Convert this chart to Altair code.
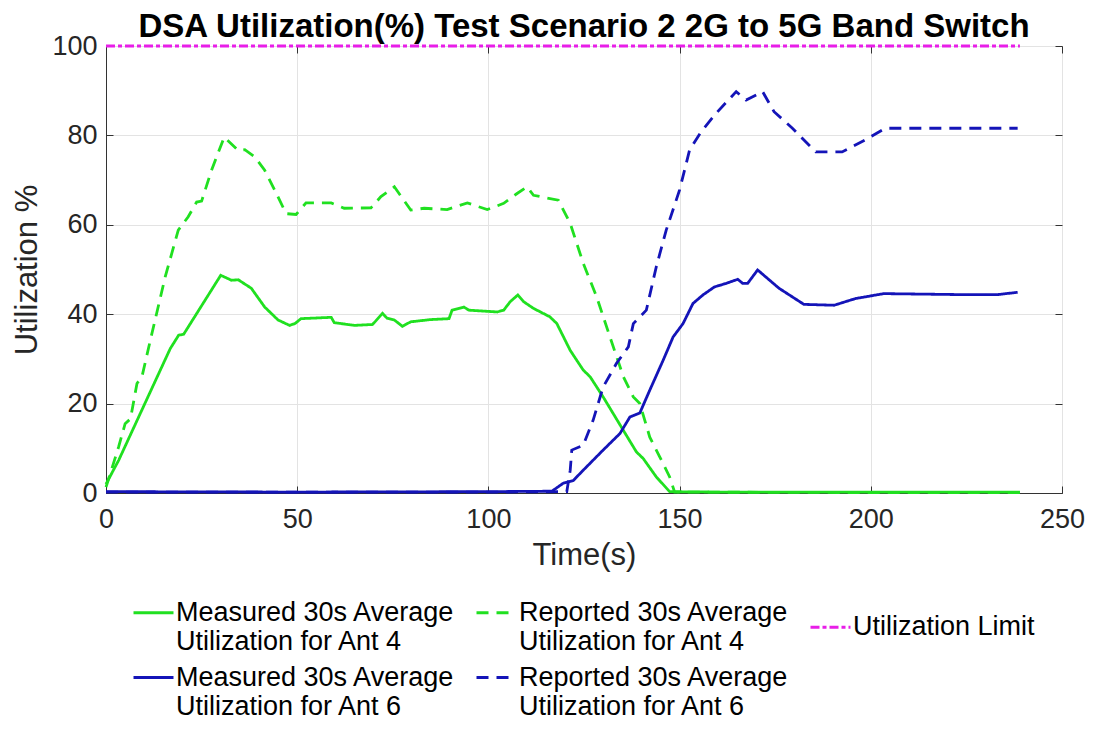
import altair as alt
import pandas as pd

# ---------------- data ----------------
m4_t = [0, 3.3, 16.8, 19, 20.3, 30, 32.8, 34.6, 38, 41.5, 45, 48, 49.4, 51, 58.9, 59.7, 65,
        69.7, 72.3, 73.5, 75.4, 77.5, 79.7, 84.9, 89.7, 90.5, 93.6, 94.9, 102.3, 104, 105.7,
        107.7, 109.2, 111.8, 116.1, 117.9, 121.4, 124.8, 126.6, 130, 135.3, 138.7, 140.5,
        143.9, 147.4, 160, 200, 239]
m4_u = [2.0, 7.3, 32.3, 35.3, 35.5, 48.7, 47.6, 47.7, 45.8, 41.6, 38.7, 37.5, 37.9, 39.0, 39.3,
        38.1, 37.5, 37.7, 40.2, 39.1, 38.7, 37.3, 38.3, 38.8, 39.0, 40.9, 41.6, 40.9, 40.5, 40.9,
        42.8, 44.3, 42.8, 41.3, 39.4, 37.9, 31.9, 27.5, 26.0, 21.5, 14.0, 9.2, 7.7, 3.6, 0.3,
        0.2, 0.2, 0.2]

r4_t = [0, 3.3, 5, 6.4, 8.1, 9.4, 11.6, 15.5, 18.9, 21.5, 23.7, 25, 27.6, 30.9, 34.6, 36.3,
        38.9, 41.5, 44.1, 47.1, 49.7, 52.3, 58.9, 62.3, 69.3, 71.9, 75.4, 79.7, 83.2, 89.2,
        94.5, 99.7, 104, 107.5, 110.1, 111.8, 118.3, 121.4, 124.8, 128.3, 131.8, 135.3,
        137.9, 139.6, 142.2, 144.8, 147.4, 148.7, 200, 239]
r4_u = [1.3, 10.3, 15.5, 16.6, 24.5, 26.0, 34.2, 48.4, 58.8, 61.8, 65.1, 65.3, 72.2, 79.6,
        76.6, 76.8, 75.2, 72.2, 67.8, 62.5, 62.3, 64.9, 64.9, 63.7, 63.8, 66.3, 68.5, 63.3,
        63.7, 63.4, 64.9, 63.4, 64.8, 67.0, 68.5, 66.6, 65.5, 60.3, 51.4, 43.9, 34.9, 26.0,
        21.5, 20.0, 12.5, 8.1, 3.6, 0.2, 0.1, 0.1]

m6_t = [0, 50, 100, 116.6, 119.6, 122.2, 124.8, 130, 134.4, 137, 139.6, 142.2, 145.7, 148.3,
        150.9, 153.5, 156.1, 159.1, 162.2, 165.2, 166.5, 167.8, 170.4, 176, 182.5, 190.4,
        196, 203.4, 222, 233.3, 238.4]
m6_u = [0.3, 0.2, 0.3, 0.4, 2.2, 2.8, 5.1, 9.6, 13.3, 17.0, 17.9, 23.0, 29.7, 34.9, 37.9,
        42.4, 44.3, 46.1, 46.9, 47.8, 46.9, 46.9, 49.9, 45.8, 42.2, 42.0, 43.5, 44.6, 44.4,
        44.4, 44.9]

r6_t = [0, 100, 120.5, 121.4, 121.8, 124.8, 127.4, 130, 133.5, 136.6, 137.9, 141.3, 143.9,
        146.5, 150, 152.6, 155.6, 159.5, 164.8, 167.4, 171.7, 174.7, 179.5, 185.6, 192.5,
        198.6, 203.8, 238.4]
r6_u = [0.2, 0.2, 0.3, 5.1, 9.6, 10.7, 16.3, 23.7, 29.0, 32.7, 37.9, 40.9, 50.6, 58.8, 67.8,
        76.7, 80.8, 84.9, 89.8, 87.9, 89.8, 85.3, 81.6, 76.3, 76.3, 79.0, 81.6, 81.6]

lim_t = [0, 239]
lim_u = [100, 100]

series_names = [
    "Measured 30s Average|Utilization for Ant 4",
    "Reported 30s Average|Utilization for Ant 4",
    "Utilization Limit",
    "Measured 30s Average|Utilization for Ant 6",
    "Reported 30s Average|Utilization for Ant 6",
]
series_colors = ["#20e020", "#20e020", "#e81ee8", "#1414b8", "#1414b8"]
series_dashes = [[1, 0], [12, 8], [9, 3, 4, 3], [1, 0], [12, 8]]

x_ticks = [0, 50, 100, 150, 200, 250]
y_ticks = [0, 20, 40, 60, 80, 100]

rows = []
for name, ts, us in zip(series_names,
                        [m4_t, r4_t, lim_t, m6_t, r6_t],
                        [m4_u, r4_u, lim_u, m6_u, r6_u]):
    for t, u in zip(ts, us):
        rows.append({"series": name, "t": t, "u": u})
df = pd.DataFrame(rows)

FONT = "Liberation Sans"
W, H = 956, 447

x_scale = alt.Scale(domain=[0, 250], nice=False)
y_scale = alt.Scale(domain=[0, 100], nice=False)

leg = alt.Legend(
    title=None, orient="none", legendX=26, legendY=545, columns=3, direction="horizontal",
    symbolType="stroke", symbolSize=1600, symbolStrokeWidth=3, labelFontSize=27,
    labelFont=FONT, labelColor="black", labelExpr="split(datum.label, '|')",
    labelOffset=1, columnPadding=15, rowPadding=1, padding=0, labelLimit=400,
)

base = alt.Chart(df)

lines = base.mark_line(strokeWidth=2.8).encode(
    x=alt.X("t:Q", scale=x_scale,
            axis=alt.Axis(values=x_ticks, title="Time(s)", labelFlush=False,
                          labelPadding=13, titlePadding=8, tickSize=0)),
    y=alt.Y("u:Q", scale=y_scale,
            axis=alt.Axis(values=y_ticks, title="Utilization %", labelPadding=9,
                          titlePadding=8, tickSize=0)),
    color=alt.Color("series:N", scale=alt.Scale(domain=series_names, range=series_colors),
                    legend=leg),
    strokeDash=alt.StrokeDash("series:N",
                              scale=alt.Scale(domain=series_names, range=series_dashes),
                              legend=leg),
)


def tick_axis(orient, offset, values):
    return alt.Axis(orient=orient, offset=offset, values=values, labels=False,
                    domain=False, grid=False, ticks=True, tickSize=7,
                    tickColor="#333333", title=None)


# inward-pointing ticks (MATLAB style) on all four edges
ticks_a = base.mark_line(opacity=0).encode(
    x=alt.X("t:Q", scale=x_scale, axis=tick_axis("top", -H, x_ticks)),
    y=alt.Y("u:Q", scale=y_scale, axis=tick_axis("right", -W, y_ticks)),
)
ticks_b = base.mark_line(opacity=0).encode(
    x=alt.X("t:Q", scale=x_scale, axis=tick_axis("bottom", -H, x_ticks)),
    y=alt.Y("u:Q", scale=y_scale, axis=tick_axis("left", -W, y_ticks)),
)

chart = alt.layer(lines, ticks_a, ticks_b).resolve_axis(
    x="independent", y="independent"
).properties(
    width=W, height=H,
    autosize=alt.AutoSizeParams(type="none"),
    padding={"left": 98, "top": 38, "right": 24, "bottom": 229},
    title=alt.Title("DSA Utilization(%) Test Scenario 2 2G to 5G Band Switch",
                    fontSize=33, fontWeight="bold", font=FONT, anchor="middle",
                    frame="group", offset=-12, color="black"),
).configure_view(
    stroke="#8a8a8a", strokeWidth=1,
).configure_axis(
    grid=True, gridColor="#e3e3e3", domainColor="#333333",
    labelFont=FONT, labelFontSize=27, labelColor="#262626",
    titleFont=FONT, titleFontSize=31, titleFontWeight="normal", titleColor="#262626",
)

chart.save("out.html", embed_options={"renderer": "svg", "actions": False})
